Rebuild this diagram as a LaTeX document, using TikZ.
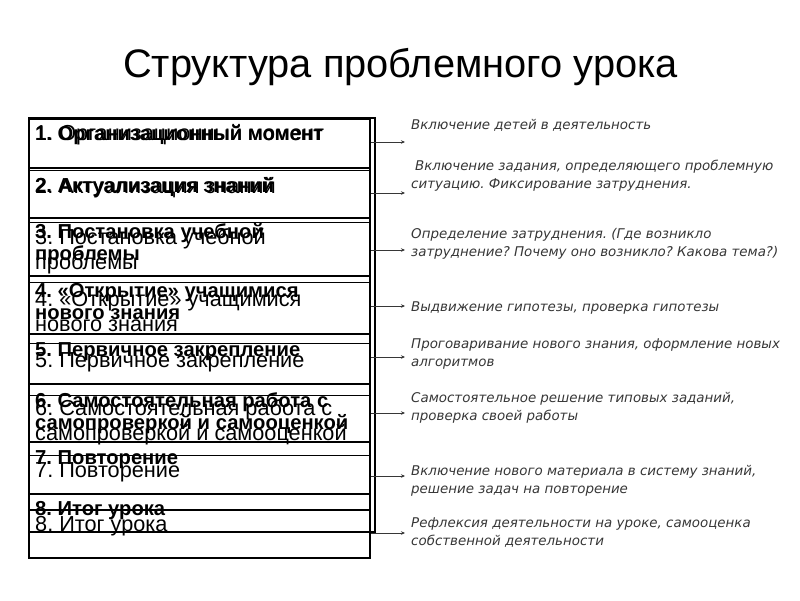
\documentclass[tikz,border=0pt]{standalone}
\usepackage{fontspec}
\setmainfont{Liberation Sans}
\newfontfamily\descfont{DejaVu Sans}
\usetikzlibrary{arrows.meta}
\definecolor{desccol}{RGB}{55,55,55}
\begin{document}
\frenchspacing
\begin{tikzpicture}[x=1pt,y=-1pt,
  boxA/.style={draw, line width=1.8pt, minimum width=341pt, inner sep=0pt, anchor=north west},
  boxB/.style={draw, line width=0.9pt, minimum width=341pt, inner sep=0pt, anchor=north west},
  txtA/.style={anchor=base west, inner sep=0pt, align=left, font=\fontsize{20.2}{22.5}\selectfont\bfseries},
  txtB/.style={anchor=base west, inner sep=0pt, align=left, font=\fontsize{21.7}{24.5}\selectfont},
  desc/.style={anchor=base west, inner sep=0pt, align=left, text=desccol, font=\descfont\itshape\fontsize{13.4}{18}\selectfont},
  arr/.style={draw=desccol, line width=0.7pt, -{Stealth[length=4pt,width=3.5pt]}}]
\fill[white] (0,0) rectangle (800,600);
\useasboundingbox (0,0) rectangle (800,600);
% title
\node[anchor=base, inner sep=0pt, font=\fontsize{39.8}{44}\selectfont] (title) at (400.5,77) {Структура проблемного урока};
% layer A (bold); multi-line nodes are placed by the baseline of their last line
\node[boxA, minimum height=50pt] (a1) at (28,117) {};
\node[boxA, minimum height=50pt] (a2) at (28,167) {};
\node[boxA, minimum height=58pt] (a3) at (28,217) {};
\node[boxA, minimum height=58pt] (a4) at (28,275) {};
\node[boxA, minimum height=50pt] (a5) at (28,333) {};
\node[boxA, minimum height=58pt] (a6) at (28,383) {};
\node[boxA, minimum height=52pt] (a7) at (28,441) {};
\node[boxA, minimum height=38pt] (a8) at (28,493) {};
\node[boxA, minimum width=346pt, minimum height=414pt] (fa) at (28,117) {};
\node[txtA] (ta1) at (35,140.2) {1. Организационный момент};
\node[txtA] (ta2) at (35,192.2) {2. Актуализация знаний};
\node[txtA] (ta3) at (35,260.7) {3. Постановка учебной\\проблемы};
\node[txtA] (ta4) at (35,319.7) {4. «Открытие» учащимися\\нового знания};
\node[txtA] (ta5) at (35,356.2) {5. Первичное закрепление};
\node[txtA] (ta6) at (35,429.7) {6. Самостоятельная работа с\\самопроверкой и самооценкой};
\node[txtA] (ta7) at (35,464.2) {7. Повторение};
\node[txtA] (ta8) at (35,515.2) {8. Итог урока};
% layer B (regular)
\node[boxB, minimum height=51pt] (b1) at (28,119) {};
\node[boxB, minimum height=52pt] (b2) at (28,170) {};
\node[boxB, minimum height=60pt] (b3) at (28,222) {};
\node[boxB, minimum height=61pt] (b4) at (28,282) {};
\node[boxB, minimum height=52pt] (b5) at (28,343) {};
\node[boxB, minimum height=60pt] (b6) at (28,395) {};
\node[boxB, minimum height=54pt] (b7) at (28,455) {};
\node[boxA, minimum height=48pt] (b8) at (28,509) {};
\node[txtB] (tb1) at (35,140.8) {1. Организационный момент};
\node[txtB] (tb2) at (35,193.8) {2. Актуализация знаний};
\node[txtB] (tb3) at (35,269.3) {3. Постановка учебной\\проблемы};
\node[txtB] (tb4) at (35,331.3) {4. «Открытие» учащимися\\нового знания};
\node[txtB] (tb5) at (35,367.8) {5. Первичное закрепление};
\node[txtB] (tb6) at (35,440.3) {6. Самостоятельная работа с\\самопроверкой и самооценкой};
\node[txtB] (tb7) at (35,477.8) {7. Повторение};
\node[txtB] (tb8) at (35,531.8) {8. Итог урока};
% descriptions
\node[desc] (d1) at (411,129) {Включение детей в деятельность};
\node[desc] (d2) at (411,188) {\hspace{4pt}Включение задания, определяющего проблемную\\ситуацию. Фиксирование затруднения.};
\node[desc] (d3) at (411,256) {Определение затруднения. (Где возникло\\затруднение? Почему оно возникло? Какова тема?)};
\node[desc] (d4) at (411,311) {Выдвижение гипотезы, проверка гипотезы};
\node[desc] (d5) at (411,366) {Проговаривание нового знания, оформление новых\\алгоритмов};
\node[desc] (d6) at (411,420) {Самостоятельное решение типовых заданий,\\проверка своей работы};
\node[desc] (d7) at (411,493) {Включение нового материала в систему знаний,\\решение задач на повторение};
\node[desc] (d8) at (411,545) {Рефлексия деятельности на уроке, самооценка\\собственной деятельности};
% arrow ends
\coordinate (e1) at (405,142);
\coordinate (e2) at (405,193);
\coordinate (e3) at (405,250);
\coordinate (e4) at (405,306);
\coordinate (e5) at (405,357);
\coordinate (e6) at (405,413);
\coordinate (e7) at (405,476);
\coordinate (e8) at (405,533);
\draw[arr] (a1.east |- e1) -- (e1);
\draw[arr] (a2.east |- e2) -- (e2);
\draw[arr] (a3.east |- e3) -- (e3);
\draw[arr] (a4.east |- e4) -- (e4);
\draw[arr] (a5.east |- e5) -- (e5);
\draw[arr] (a6.east |- e6) -- (e6);
\draw[arr] (a7.east |- e7) -- (e7);
\draw[arr] (b8.east |- e8) -- (e8);
\end{tikzpicture}
\end{document}
